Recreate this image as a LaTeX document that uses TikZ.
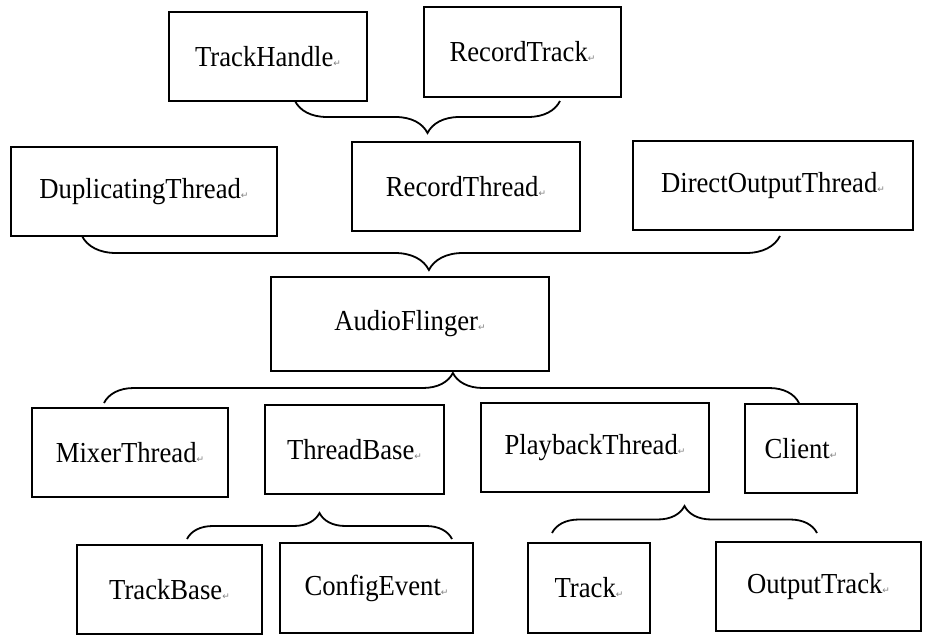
\documentclass[tikz,border=0pt]{standalone}
\usepackage{fontspec}
\setmainfont{Liberation Serif}[FakeStretch=0.92]
\newfontfamily\markfont{DejaVu Sans}
\usetikzlibrary{decorations.pathreplacing}
\newcommand{\parmark}{{\color{gray}\markfont\fontsize{9}{9}\selectfont ↵}}
\begin{document}
\begin{tikzpicture}[x=1pt,y=-1pt]
            \tikzstyle{box}=[draw, line width=2pt, inner sep=0pt, font=\fontsize{29}{29}\selectfont]
            \tikzstyle{brace}=[decorate, line width=1.8pt]
            \useasboundingbox (0,0) rectangle (929,644);
            \node[box, minimum width=198, minimum height=89] (TrackHandle) at (268,56.5) {TrackHandle\parmark};
            \node[box, minimum width=197, minimum height=90] (RecordTrack) at (522.5,52) {RecordTrack\parmark};
            \node[box, minimum width=266, minimum height=89] (DuplicatingThread) at (144,191.5) {DuplicatingThread\parmark};
            \node[box, minimum width=228, minimum height=89] (RecordThread) at (466,186.5) {RecordThread\parmark};
            \node[box, minimum width=280, minimum height=89] (DirectOutputThread) at (773,185.5) {DirectOutputThread\parmark};
            \node[box, minimum width=278, minimum height=94] (AudioFlinger) at (410,324) {AudioFlinger\parmark};
            \node[box, minimum width=196, minimum height=89] (MixerThread) at (130,452.5) {MixerThread\parmark};
            \node[box, minimum width=179, minimum height=89] (ThreadBase) at (354.5,449.5) {ThreadBase\parmark};
            \node[box, minimum width=228, minimum height=89] (PlaybackThread) at (595,447.5) {PlaybackThread\parmark};
            \node[box, minimum width=112, minimum height=89] (Client) at (801,448.5) {Client\parmark};
            \node[box, minimum width=185, minimum height=89] (TrackBase) at (169.5,589.5) {TrackBase\parmark};
            \node[box, minimum width=193, minimum height=90] (ConfigEvent) at (376.5,588) {ConfigEvent\parmark};
            \node[box, minimum width=122, minimum height=90] (Track) at (589,588) {Track\parmark};
            \node[box, minimum width=205, minimum height=89] (OutputTrack) at (818.5,586.5) {OutputTrack\parmark};
            % brace ends
            \coordinate (tracksL) at (295,101);
            \coordinate (tracksR) at (560,101);
            \coordinate (threadsL) at (82,236);
            \coordinate (threadsR) at (780,236);
            \coordinate (flingerL) at (104,403);
            \coordinate (flingerR) at (799,403);
            \coordinate (baseL) at (187,539);
            \coordinate (baseR) at (452,539);
            \coordinate (playL) at (552,533);
            \coordinate (playR) at (817,533);
            \draw[brace, decoration={brace, mirror, amplitude=32pt, aspect=0.5}] (tracksL) -- (tracksR);
            \draw[brace, decoration={brace, mirror, amplitude=34pt, aspect=0.497}] (threadsL) -- (threadsR);
            \draw[brace, decoration={brace, amplitude=30pt, aspect=0.502}] (flingerL) -- (flingerR);
            \draw[brace, decoration={brace, amplitude=26pt, aspect=0.5}] (baseL) -- (baseR);
            \draw[brace, decoration={brace, amplitude=27pt, aspect=0.5}] (playL) -- (playR);
\end{tikzpicture}
\end{document}
